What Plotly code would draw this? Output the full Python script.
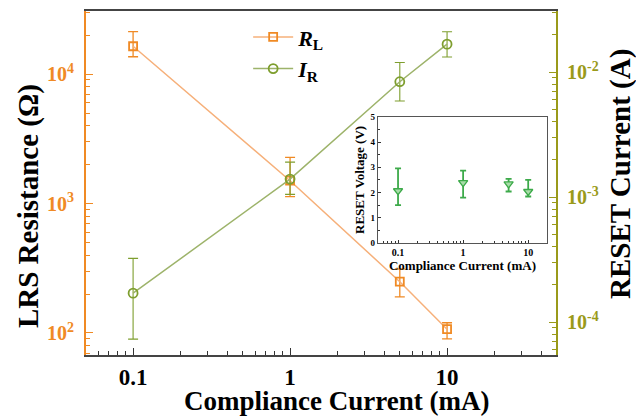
import plotly.graph_objects as go

# ---- data ----
cc = [0.1, 1, 5, 10]                      # compliance current (mA)
r_l = [16400, 1500, 249, 107]             # LRS resistance (ohm)
r_l_hi = [21300, 2270, 312, 120]
r_l_lo = [13600, 1130, 190, 90]
i_r = [1.7e-4, 1.39e-3, 8.36e-3, 1.67e-2] # RESET current (A)
i_r_hi = [3.23e-4, 1.9e-3, 1.19e-2, 2.1e-2]
i_r_lo = [7.3e-5, 1.05e-3, 5.86e-3, 1.32e-2]
v_reset = [2.07, 2.39, 2.34, 2.04]        # inset RESET voltage (V)
v_hi = [2.96, 2.87, 2.54, 2.5]
v_lo = [1.5, 1.8, 2.04, 1.84]

x_ticks = [0.1, 1, 10]
x_ticktext = ["<b>0.1</b>", "<b>1</b>", "<b>10</b>"]
yl_ticks = [100, 1000, 10000]
yl_ticktext = ["<b>10<sup>2</sup></b>", "<b>10<sup>3</sup></b>", "<b>10<sup>4</sup></b>"]
yr_ticks = [1e-4, 1e-3, 1e-2]
yr_ticktext = ["<b>10<sup>-4</sup></b>", "<b>10<sup>-3</sup></b>", "<b>10<sup>-2</sup></b>"]
inset_y_ticks = [0, 1, 2, 3, 4, 5]

x_title = "<b>Compliance Current (mA)</b>"
yl_title = "<b>LRS Resistance (Ω)</b>"
yr_title = "<b>RESET Current (A)</b>"

ORANGE = "#F08A24"
ORANGE_L = "#F6B07A"
OLIVE = "#9A9A1A"
GREEN_L = "#9DB36A"
GREEN_M = "#7E9E2E"
INSET_G = "#3DAA4A"
FONT = "Liberation Serif"

def minor_log(lo_exp, hi_exp, lo, hi):
    vals = []
    for e in range(lo_exp, hi_exp + 1):
        for m in range(2, 10):
            v = m * 10 ** e
            if lo <= v <= hi:
                vals.append(v)
    return vals

def errs(v, hi, lo):
    return [h - a for a, h in zip(v, hi)], [a - l for a, l in zip(v, lo)]

fig = go.Figure()

ep, em = errs(r_l, r_l_hi, r_l_lo)
fig.add_trace(go.Scatter(
    x=cc, y=r_l, mode="lines+markers", name="<b><i>R</i><sub>L</sub></b>",
    line=dict(color=ORANGE_L, width=1.5),
    marker=dict(symbol="square-open", size=8, color=ORANGE, line=dict(width=1.8)),
    error_y=dict(type="data", array=ep, arrayminus=em, color=ORANGE, thickness=1.3, width=5),
    xaxis="x", yaxis="y"))

ep, em = errs(i_r, i_r_hi, i_r_lo)
fig.add_trace(go.Scatter(
    x=cc, y=i_r, mode="lines+markers", name="<b><i>I</i><sub>R</sub></b>",
    line=dict(color=GREEN_L, width=1.5),
    marker=dict(symbol="circle-open", size=9, color=GREEN_M, line=dict(width=1.8)),
    error_y=dict(type="data", array=ep, arrayminus=em, color=GREEN_M, thickness=1.1, width=5),
    xaxis="x", yaxis="y2"))

ep, em = errs(v_reset, v_hi, v_lo)
fig.add_trace(go.Scatter(
    x=cc, y=v_reset, mode="markers", showlegend=False,
    marker=dict(symbol="triangle-down", size=8, color="#A8DCA8", line=dict(color=INSET_G, width=1.3)),
    error_y=dict(type="data", array=ep, arrayminus=em, color=INSET_G, thickness=1.8, width=3),
    xaxis="x3", yaxis="y3"))

title_font = dict(family=FONT, size=29, color="black")

# page body adds an 8px offset, so the figure is sized to fit inside the window
fig.update_layout(
    width=636, height=411,
    margin=dict(l=78, r=88, t=3, b=64),
    paper_bgcolor="white", plot_bgcolor="white",
    font=dict(family=FONT),
    legend=dict(x=0.345, y=0.985, xanchor="left", yanchor="top",
                bgcolor="rgba(0,0,0,0)", font=dict(family=FONT, size=22, color="black"),
                itemwidth=40, tracegroupgap=0),
    xaxis=dict(type="log", range=[-1.3, 1.694], showgrid=False, zeroline=False, automargin=False,
               tickvals=x_ticks, ticktext=x_ticktext, ticks="inside", ticklen=7,
               tickcolor="#333", tickfont=dict(family=FONT, size=23, color="black"),
               ticklabelstandoff=0,
               showline=True, linecolor="#444", linewidth=2, mirror=True,
               minor=dict(tickvals=minor_log(-2, 1, 0.05, 49), ticks="inside", ticklen=4, tickcolor="#333")),
    yaxis=dict(type="log", range=[1.83, 4.487], showgrid=False, zeroline=False, automargin=False,
               tickvals=yl_ticks, ticktext=yl_ticktext, ticks="inside", ticklen=7,
               tickcolor=ORANGE, tickfont=dict(family=FONT, size=20, color=ORANGE),
               ticklabelstandoff=6,
               showline=True, linecolor=ORANGE, linewidth=2,
               minor=dict(tickvals=minor_log(1, 4, 68, 30000), ticks="inside", ticklen=4, tickcolor=ORANGE)),
    yaxis2=dict(type="log", range=[-4.264, -1.512], overlaying="y", side="right", automargin=False,
                showgrid=False, zeroline=False,
                tickvals=yr_ticks, ticktext=yr_ticktext, ticks="inside", ticklen=7,
                tickcolor=OLIVE, tickfont=dict(family=FONT, size=20, color=OLIVE),
                ticklabelstandoff=5,
                showline=True, linecolor=OLIVE, linewidth=2,
                minor=dict(tickvals=minor_log(-5, -2, 5.5e-5, 0.03), ticks="inside", ticklen=4, tickcolor=OLIVE)),
    xaxis3=dict(type="log", range=[-1.31, 1.29], domain=[0.621, 0.981], anchor="y3", automargin=False,
                showgrid=False, zeroline=False,
                tickvals=x_ticks, ticktext=x_ticktext, ticks="inside", ticklen=3,
                tickcolor="#333", tickfont=dict(family=FONT, size=10, color="black"),
                showline=True, linecolor="#555", linewidth=1.3, mirror=True,
                minor=dict(tickvals=minor_log(-2, 1, 0.05, 19), ticks="inside", ticklen=2, tickcolor="#333"),
                title=dict(text="<b>Compliance Current (mA)</b>", font=dict(family=FONT, size=13, color="black"), standoff=0)),
    yaxis3=dict(range=[0, 5], domain=[0.326, 0.692], anchor="x3", automargin=False,
                showgrid=False, zeroline=False,
                tickvals=inset_y_ticks, ticktext=[f"<b>{v}</b>" for v in inset_y_ticks],
                ticks="inside", ticklen=3, tickcolor="#333",
                tickfont=dict(family=FONT, size=9, color="black"),
                showline=True, linecolor="#555", linewidth=1.3, mirror=True,
                minor=dict(dtick=0.5, ticks="inside", ticklen=2, tickcolor="#333"),
                title=dict(text="<b>RESET Voltage (V)</b>", font=dict(family=FONT, size=13, color="black"), standoff=2)),
    annotations=[
        dict(text=x_title, xref="paper", yref="paper", x=0.532, y=-0.134,
             xanchor="center", yanchor="middle", showarrow=False, font=dict(family=FONT, size=27, color="black")),
        dict(text=yl_title, xref="paper", yref="paper", x=-0.1234, y=0.433, textangle=-90,
             xanchor="center", yanchor="middle", showarrow=False, font=title_font),
        dict(text=yr_title, xref="paper", yref="paper", x=1.136, y=0.526, textangle=-90,
             xanchor="center", yanchor="middle", showarrow=False, font=title_font),
    ],
)

fig.write_html("out.html")
